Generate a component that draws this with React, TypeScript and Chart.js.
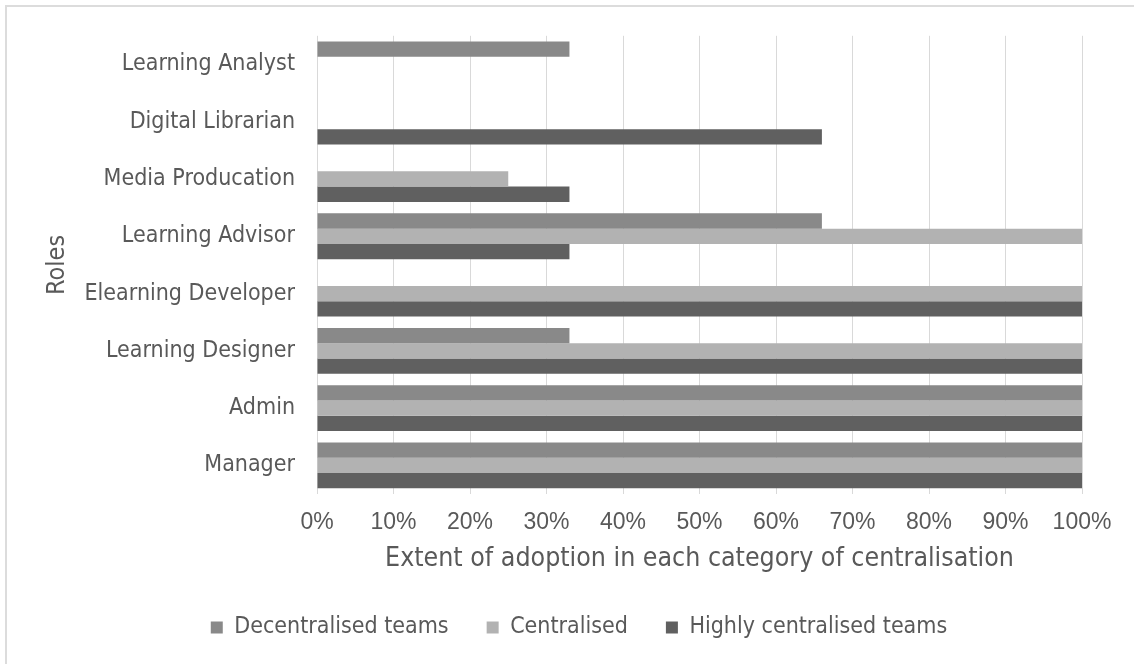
import { useEffect, useRef } from "react";
import { Chart, registerables } from "chart.js";

Chart.register(...registerables);

// Roles listed top to bottom as they appear on the axis
const roles = [
  "Learning Analyst",
  "Digital Librarian",
  "Media Producation",
  "Learning Advisor",
  "Elearning Developer",
  "Learning Designer",
  "Admin",
  "Manager",
];

// Share of organisations (%) using each role, by category of centralisation
const decentralisedTeams = [33, 0, 0, 66, 0, 33, 100, 100];
const centralised = [0, 0, 25, 100, 100, 100, 100, 100];
const highlyCentralisedTeams = [0, 66, 33, 33, 100, 100, 100, 100];

const seriesNames = ["Decentralised teams", "Centralised", "Highly centralised teams"];
const seriesColors = ["#898989", "#b2b2b2", "#606060"];

const TEXT = "#595959";
const LABEL_FONT = "'DejaVu Sans Condensed', 'DejaVu Sans', sans-serif";
const TICK_FONT = "'Liberation Sans', Arial, sans-serif";

export default function App() {
  const canvasRef = useRef<HTMLCanvasElement | null>(null);

  useEffect(() => {
    const canvas = canvasRef.current;
    if (!canvas) return;

    const chart = new Chart(canvas, {
      type: "bar",
      data: {
        labels: roles,
        datasets: [decentralisedTeams, centralised, highlyCentralisedTeams].map((values, i) => ({
          label: seriesNames[i],
          data: values,
          backgroundColor: seriesColors[i],
          borderWidth: 0,
          categoryPercentage: 0.8,
          barPercentage: 1.0,
        })),
      },
      options: {
        indexAxis: "y",
        responsive: false,
        animation: false,
        devicePixelRatio: 1,
        layout: { padding: { left: 24, top: 35, right: 0, bottom: 15 } },
        plugins: {
          tooltip: { enabled: false },
          legend: {
            position: "bottom",
            labels: {
              color: TEXT,
              font: { family: LABEL_FONT, size: 23 },
              boxWidth: 12,
              boxHeight: 12,
              padding: 38,
            },
          },
        },
        scales: {
          x: {
            min: 0,
            max: 100,
            ticks: {
              stepSize: 10,
              color: TEXT,
              font: { family: TICK_FONT, size: 23 },
              padding: 15,
              maxRotation: 0,
              callback: (v: any) => `${v}%`,
            },
            grid: { color: "#d9d9d9", lineWidth: 1, drawTicks: false },
            border: { display: false },
            title: {
              display: true,
              text: "Extent of adoption in each category of centralisation",
              color: TEXT,
              font: { family: LABEL_FONT, size: 26.5 },
              padding: { top: 0, bottom: 3 },
            },
            afterFit: (scale: any) => {
              scale.height = 84;
              scale.paddingRight = 52;
            },
          },
          y: {
            ticks: {
              color: TEXT,
              font: { family: LABEL_FONT, size: 23 },
              padding: 22,
            },
            grid: { display: false, drawTicks: false },
            border: { display: false },
            title: {
              display: true,
              text: "Roles",
              color: TEXT,
              font: { family: LABEL_FONT, size: 25 },
              padding: { top: 18, bottom: 0 },
            },
            afterFit: (scale: any) => {
              scale.width = 293;
            },
          },
        },
      },
    });

    return () => chart.destroy();
  }, []);

  return (
    <div
      style={{
        position: "fixed",
        left: 0,
        top: 0,
        width: 1134,
        height: 664,
        overflow: "hidden",
        background: "#ffffff",
      }}
    >
      <div
        style={{
          position: "absolute",
          left: 5,
          top: 5,
          width: 1400,
          height: 900,
          borderLeft: "2px solid #dcdcdc",
          borderTop: "2px solid #dcdcdc",
        }}
      />
      <canvas
        ref={canvasRef}
        width={1134}
        height={664}
        style={{ position: "absolute", left: 0, top: 0, display: "block" }}
      />
    </div>
  );
}
